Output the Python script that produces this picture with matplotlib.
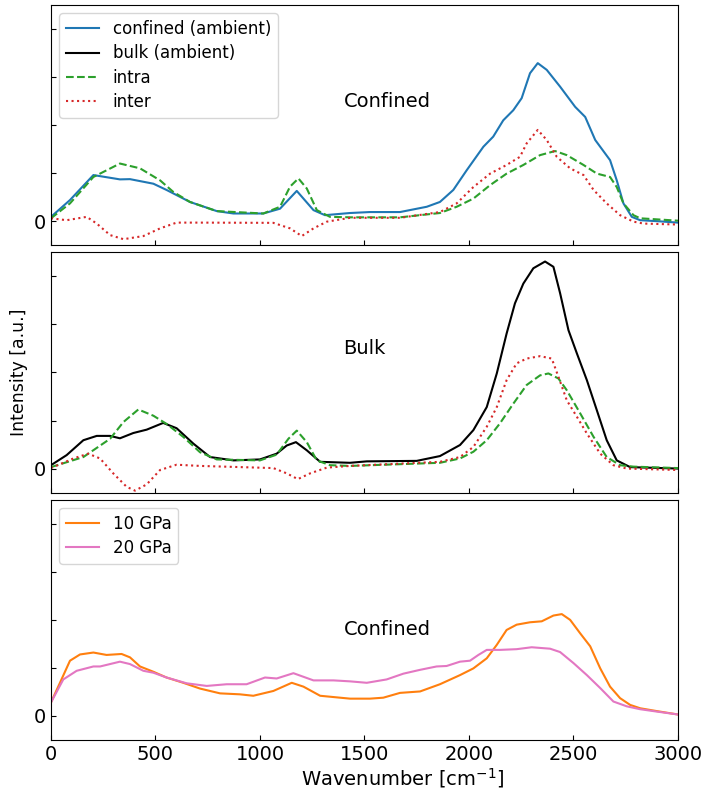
import numpy as np
import matplotlib
matplotlib.use("Agg")
import matplotlib.pyplot as plt

# --- panel 1: confined (ambient) ---
x_conf = [0, 91, 203, 330, 378, 490, 553, 665, 793, 873, 1016, 1096, 1176, 1256, 1311, 1431,
          1526, 1670, 1798, 1861, 1925, 1989, 2069, 2116, 2164, 2212, 2252, 2292, 2329, 2372,
          2436, 2508, 2556, 2604, 2675, 2707, 2739, 2779, 2819, 2900, 3000]
y_conf = [0.09, 0.44, 0.96, 0.87, 0.875, 0.78, 0.65, 0.40, 0.21, 0.16, 0.16, 0.26, 0.63, 0.23, 0.125, 0.17,
          0.19, 0.19, 0.30, 0.40, 0.65, 1.06, 1.55, 1.76, 2.10, 2.31, 2.56, 3.08, 3.29, 3.15,
          2.80, 2.38, 2.17, 1.69, 1.27, 0.85, 0.37, 0.09, 0.02, 0.0, -0.03]

x_conf_intra = [0, 91, 203, 330, 426, 522, 585, 665, 793, 1016, 1096, 1144, 1184, 1224, 1272, 1335, 1431,
                1670, 1861, 1941, 2021, 2101, 2180, 2260, 2340, 2412, 2468, 2548, 2612, 2675, 2707,
                2739, 2787, 2819, 3000]
y_conf_intra = [0.06, 0.37, 0.92, 1.20, 1.10, 0.85, 0.61, 0.40, 0.21, 0.16, 0.30, 0.72, 0.89, 0.68, 0.23, 0.09, 0.08,
                0.08, 0.17, 0.30, 0.47, 0.75, 0.99, 1.17, 1.375, 1.46, 1.375, 1.17, 0.99, 0.92, 0.71,
                0.37, 0.125, 0.06, 0.01]

x_conf_inter = [0, 75, 171, 219, 283, 347, 442, 522, 601, 713, 1064, 1144, 1200, 1256, 1320, 1431,
                1670, 1861, 1941, 2021, 2101, 2180, 2244, 2276, 2329, 2372, 2420, 2484, 2548, 2596,
                2659, 2723, 2787, 2835, 3000]
y_conf_inter = [0.06, 0.02, 0.09, -0.05, -0.29, -0.375, -0.31, -0.15, -0.03, -0.03, -0.035, -0.15, -0.31, -0.15, -0.01, 0.07,
                0.07, 0.19, 0.37, 0.71, 0.99, 1.17, 1.34, 1.62, 1.90, 1.69, 1.34, 1.10, 0.96, 0.65,
                0.37, 0.125, -0.01, -0.05, -0.07]

# --- panel 2: bulk (ambient) ---
x_bulk = [0, 75, 155, 219, 283, 330, 394, 458, 537, 601, 681, 761, 873, 1000, 1080, 1128, 1172, 1224, 1288, 1431,
          1511, 1750, 1861, 1957, 2021, 2085, 2133, 2180, 2220, 2260, 2308, 2364, 2404, 2436, 2476,
          2516, 2564, 2612, 2659, 2707, 2771, 3000]
y_bulk = [0.07, 0.28, 0.59, 0.68, 0.68, 0.63, 0.74, 0.81, 0.95, 0.84, 0.52, 0.24, 0.17, 0.19, 0.31, 0.48, 0.55, 0.38, 0.14, 0.12,
          0.15, 0.16, 0.26, 0.49, 0.80, 1.28, 1.98, 2.81, 3.44, 3.85, 4.17, 4.31, 4.20, 3.65, 2.88,
          2.40, 1.84, 1.21, 0.59, 0.17, 0.03, 0.0]

x_bulk_intra = [0, 155, 283, 347, 418, 490, 553, 633, 713, 793, 1000, 1080, 1136, 1176, 1224, 1272, 1335, 1431,
                1861, 1957, 2021, 2085, 2148, 2212, 2276, 2340, 2380, 2428, 2468, 2532, 2596, 2659,
                2723, 2787, 3000]
y_bulk_intra = [0.03, 0.24, 0.62, 0.97, 1.23, 1.10, 0.93, 0.66, 0.34, 0.19, 0.17, 0.29, 0.62, 0.79, 0.55, 0.17, 0.07, 0.055,
                0.12, 0.21, 0.35, 0.59, 0.94, 1.35, 1.74, 1.94, 1.98, 1.875, 1.63, 1.15, 0.66, 0.24,
                0.07, 0.04, 0.01]

x_bulk_inter = [0, 107, 178, 235, 298, 362, 402, 458, 522, 601, 713, 1064, 1128, 1181, 1240, 1320, 1431,
                1861, 1957, 2021, 2085, 2133, 2180, 2228, 2276, 2340, 2396, 2428, 2468, 2516, 2564,
                2628, 2691, 2755, 3000]
y_bulk_inter = [0.01, 0.21, 0.31, 0.21, -0.10, -0.38, -0.46, -0.33, -0.03, 0.08, 0.055, 0.01, -0.10, -0.22, -0.10, 0.02, 0.055,
                0.14, 0.24, 0.45, 0.87, 1.28, 1.84, 2.19, 2.29, 2.34, 2.29, 1.91, 1.42, 1.08, 0.73,
                0.31, 0.07, 0.0, -0.03]

# --- panel 3: confined under pressure ---
x_10 = [0, 43, 91, 139, 203, 266, 338, 378, 426, 490, 553, 633, 713, 809, 904, 968, 1064, 1152, 1208, 1288, 1431,
        1526, 1590, 1670, 1766, 1861, 1957, 2021, 2085, 2133, 2180, 2228, 2292, 2348, 2404, 2444,
        2484, 2532, 2580, 2628, 2675, 2723, 2771, 2819, 2900, 3000]
y_10 = [0.28, 0.69, 1.15, 1.28, 1.32, 1.27, 1.29, 1.22, 1.03, 0.92, 0.80, 0.69, 0.57, 0.47, 0.45, 0.42, 0.52, 0.69, 0.61, 0.42, 0.36,
        0.36, 0.38, 0.48, 0.51, 0.66, 0.85, 0.99, 1.20, 1.48, 1.79, 1.90, 1.95, 1.97, 2.09, 2.12,
        2.00, 1.72, 1.45, 0.99, 0.61, 0.37, 0.23, 0.16, 0.10, 0.03]

x_20 = [0, 59, 123, 203, 235, 330, 378, 442, 490, 553, 649, 745, 841, 936, 1024, 1080, 1160, 1256, 1352, 1431,
        1511, 1606, 1686, 1766, 1845, 1893, 1957, 2005, 2045, 2085, 2148, 2228, 2300, 2388, 2436,
        2500, 2564, 2628, 2691, 2755, 2819, 2900, 3000]
y_20 = [0.28, 0.76, 0.94, 1.03, 1.03, 1.13, 1.08, 0.94, 0.90, 0.80, 0.68, 0.625, 0.66, 0.66, 0.80, 0.78, 0.89, 0.74, 0.74, 0.72,
        0.69, 0.76, 0.88, 0.96, 1.03, 1.04, 1.13, 1.15, 1.27, 1.375, 1.375, 1.39, 1.43, 1.40, 1.33,
        1.10, 0.85, 0.58, 0.30, 0.20, 0.14, 0.09, 0.03]

yticks = [0, 1, 2, 3, 4]
ytick_labels = ["0", "", "", "", ""]
xticks = [0, 500, 1000, 1500, 2000, 2500, 3000]

plt.rcParams['font.size'] = 14
plt.rcParams['legend.fontsize'] = 12
plt.rcParams['legend.labelspacing'] = 0.38

fig, axes = plt.subplots(3, 1, figsize=(7.02, 7.96), dpi=100, sharex=True)
fig.subplots_adjust(left=0.0726, right=0.9658, top=0.9937, bottom=0.0704, hspace=0.03)
ax1, ax2, ax3 = axes

ax1.plot(x_conf, y_conf, color='tab:blue', lw=1.5, label='confined (ambient)')
ax1.plot([], [], color='black', lw=1.5, label='bulk (ambient)')
ax1.plot(x_conf_intra, y_conf_intra, color='tab:green', ls='--', lw=1.5, label='intra')
ax1.plot(x_conf_inter, y_conf_inter, color='tab:red', ls=':', lw=1.5, label='inter')
ax1.legend(loc='upper left')
ax1.text(1400, 2.5, 'Confined', va='center')

ax2.plot(x_bulk, y_bulk, color='black', lw=1.5)
ax2.plot(x_bulk_intra, y_bulk_intra, color='tab:green', ls='--', lw=1.5)
ax2.plot(x_bulk_inter, y_bulk_inter, color='tab:red', ls=':', lw=1.5)
ax2.text(1400, 2.5, 'Bulk', va='center')
ax2.set_ylabel('Intensity [a.u.]', fontsize=12.5)

ax3.plot(x_10, y_10, color='tab:orange', lw=1.5, label='10 GPa')
ax3.plot(x_20, y_20, color='tab:pink', lw=1.5, label='20 GPa')
ax3.legend(loc='upper left')
ax3.text(1400, 1.8, 'Confined', va='center')

for ax in axes:
    ax.set_xlim(0, 3000)
    ax.set_ylim(-0.5, 4.5)
    ax.set_yticks(yticks)
    ax.set_yticklabels(ytick_labels)
    ax.set_xticks(xticks)
    ax.tick_params(direction='in')

fig.text(0.573, 0.022, r'Wavenumber [cm$^{-1}$]', ha='center', va='center')

plt.savefig('out.png', dpi=100)
